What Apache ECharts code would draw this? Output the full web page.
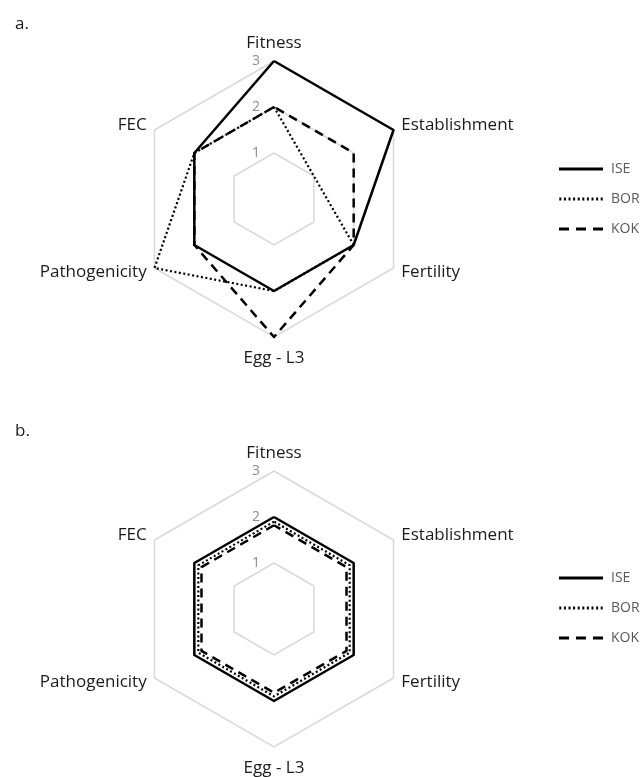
<!DOCTYPE html>
<html>
<head>
<meta charset="utf-8">
<script src="https://cdn.jsdelivr.net/npm/echarts@6/dist/echarts.min.js"></script>
<style>
  html, body { margin: 0; padding: 0; background: #fff; }
  #chart { width: 643px; height: 777px; }
</style>
</head>
<body>
<div id="chart"></div>
<script>
// indicator order as ECharts lays them out (counter-clockwise from the top)
const indicators = ['Fitness', 'FEC', 'Pathogenicity', 'Egg - L3', 'Fertility', 'Establishment']
const strains = ['ISE', 'BOR', 'KOK']

// panel a
const iseA = [3, 2, 2, 2, 2, 3]
const borA = [2, 2, 3, 2, 2, 1]
const kokA = [2, 2, 2, 3, 2, 2]
// panel b
const iseB = [2, 2, 2, 2, 2, 2]
const borB = [1.9, 1.9, 1.9, 1.9, 1.9, 1.9]
const kokB = [1.82, 1.82, 1.82, 1.82, 1.82, 1.82]

const fontFamily = 'Open Sans'
const lineStyles = {
  ISE: { type: 'solid', width: 2.5 },
  BOR: { type: [2, 2.5], width: 2.2 },
  KOK: { type: [9, 6], width: 2.5 }
}
// legend icons drawn as little line samples
const icons = {
  ISE: 'path://M0,0H44V3H0Z',
  BOR: 'path://M0,0H2V3H0ZM4.6,0H6.6V3H4.6ZM9.2,0H11.2V3H9.2ZM13.8,0H15.8V3H13.8ZM18.4,0H20.4V3H18.4ZM23,0H25V3H23ZM27.6,0H29.6V3H27.6ZM32.2,0H34.2V3H32.2ZM36.8,0H38.8V3H36.8ZM41.4,0H43.4V3H41.4Z',
  KOK: 'path://M0,0H10V3H0ZM17,0H27V3H17ZM34,0H44V3H34Z'
}

function makeRadar(center) {
  return {
    center: center,
    radius: 138,
    startAngle: 90,
    splitNumber: 3,
    shape: 'polygon',
    axisName: { color: '#1a1a1a', fontSize: 17, fontFamily: fontFamily },
    nameGap: 9,
    axisLine: { show: false },
    axisTick: { show: false },
    splitArea: { show: false },
    splitLine: { lineStyle: { color: '#d9d9d9', width: 1.5 } },
    indicator: indicators.map((n, i) => {
      let ind = { name: n, min: 0, max: 3 }
      if (i === 0) {
        ind.axisLabel = {
          show: true,
          color: '#8c8c8c',
          fontSize: 14,
          fontFamily: fontFamily,
          margin: 14,
          formatter: v => (v === 0 ? '' : v)
        }
      }
      if (n === 'Egg - L3') ind.nameGap = 13
      return ind
    })
  }
}

function makeSeries(radarIndex, vals) {
  return {
    type: 'radar',
    radarIndex: radarIndex,
    symbol: 'none',
    silent: true,
    data: strains.map((s, i) => ({
      name: s,
      value: vals[i],
      itemStyle: { color: '#000' },
      lineStyle: Object.assign({ color: '#000' }, lineStyles[s])
    }))
  }
}

function makeLegend(top) {
  return {
    orient: 'vertical',
    left: 559,
    top: top,
    padding: 0,
    itemWidth: 44,
    itemHeight: 3,
    itemGap: 14,
    selectedMode: false,
    textStyle: { color: '#595959', fontSize: 14, fontFamily: fontFamily, lineHeight: 16, padding: [0, 0, 0, 3] },
    data: strains.map(s => ({ name: s, icon: icons[s] }))
  }
}

const chart = echarts.init(document.getElementById('chart'))
chart.setOption({
  animation: false,
  backgroundColor: '#fff',
  title: [
    { text: 'a.', left: 10, top: 11, textStyle: { fontSize: 17, fontWeight: 'normal', color: '#1a1a1a', fontFamily: fontFamily } },
    { text: 'b.', left: 10, top: 418, textStyle: { fontSize: 17, fontWeight: 'normal', color: '#1a1a1a', fontFamily: fontFamily } }
  ],
  legend: [makeLegend(161), makeLegend(570)],
  radar: [makeRadar([274, 199]), makeRadar([274, 609])],
  series: [makeSeries(0, [iseA, borA, kokA]), makeSeries(1, [iseB, borB, kokB])]
})
</script>
</body>
</html>
